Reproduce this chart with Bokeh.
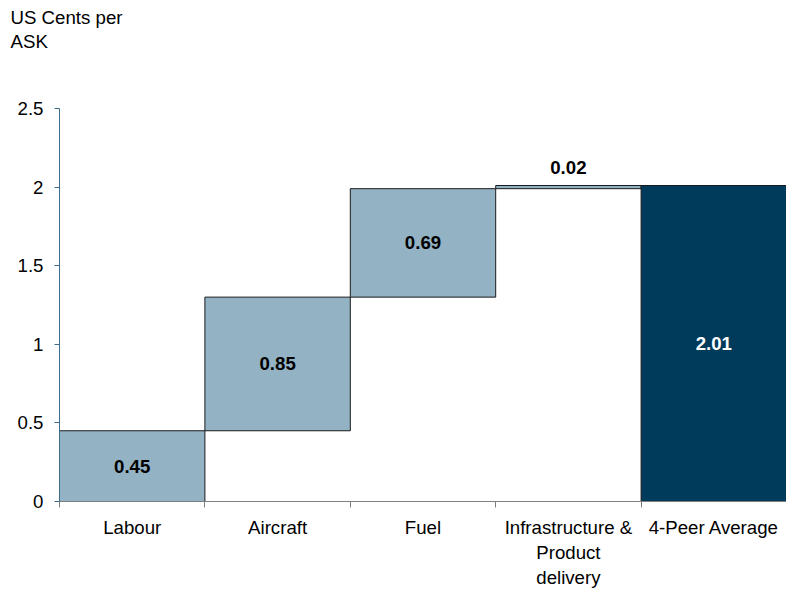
from bokeh.plotting import figure
from bokeh.models import ColumnDataSource, FixedTicker, Range1d
from bokeh.core.properties import value
from bokeh.embed import file_html
from bokeh.resources import INLINE

categories = ["Labour", "Aircraft", "Fuel", "Infrastructure &\nProduct\ndelivery", "4-Peer Average"]
values = [0.45, 0.85, 0.69, 0.02, 2.01]
labels = ["0.45", "0.85", "0.69", "0.02", "2.01"]
y_ticks = [0, 0.5, 1, 1.5, 2, 2.5]
y_tick_labels = ["0", "0.5", "1", "1.5", "2", "2.5"]
unit_lines = ["US Cents per", "ASK"]

# waterfall geometry from values
bottoms, tops = [], []
run = 0.0
for i, v in enumerate(values[:-1]):
    bottoms.append(run)
    run += v
    tops.append(run)
bottoms.append(0.0)
tops.append(values[-1])
# infrastructure step ends at the total
tops[3] = values[-1]
bottoms[3] = values[-1] - values[3]

xs = [i + 0.5 for i in range(len(categories))]
fills = ["#93b3c5"] * 4 + ["#003b5c"]

FONT = "Liberation Sans"
FS = "14pt"

p = figure(width=786, height=590, x_range=Range1d(0, 5), y_range=Range1d(0, 2.5),
           output_backend="svg", toolbar_location=None,
           min_border_left=59, min_border_right=0, min_border_top=0, min_border_bottom=0)
p.title.text = "\n".join(unit_lines + ["\u00a0", "\u00a0"])
p.title.text_font = FONT
p.title.text_font_size = FS
p.title.text_font_style = "normal"
p.title.text_color = "#000000"
p.title.text_line_height = 1.15
p.title.offset = -49
p.title.standoff = 13
p.title.vertical_align = "top"

p.outline_line_color = None
p.grid.grid_line_color = None

src = ColumnDataSource(dict(x=xs, bottom=bottoms, top=tops, fill=fills))
p.vbar(x="x", width=1.0, bottom="bottom", top="top", fill_color="fill",
       line_color="#1a1a1a", line_width=1, source=src)

# value labels
mid_idx = [0, 1, 2, 4]
lab_src = ColumnDataSource(dict(
    x=[xs[i] for i in mid_idx],
    y=[(bottoms[i] + tops[i]) / 2 for i in mid_idx],
    t=[labels[i] for i in mid_idx],
    c=["#000000", "#000000", "#000000", "#ffffff"]))
p.text(x="x", y="y", text="t", text_color="c", text_align="center", text_baseline="middle",
       text_font=value(FONT), text_font_size=FS, text_font_style="bold", source=lab_src)
top_src = ColumnDataSource(dict(x=[xs[3]], y=[tops[3]], t=[labels[3]]))
p.text(x="x", y="y", text="t", text_color="#000000", text_align="center",
       text_baseline="alphabetic", y_offset=-18,
       text_font=value(FONT), text_font_size=FS, text_font_style="bold", source=top_src)

# x axis: labels at centers, tick marks at boundaries
xa = p.xaxis[0]
xa.ticker = FixedTicker(ticks=xs, minor_ticks=list(range(len(categories) + 1)))
xa.major_label_overrides = {x: c for x, c in zip(xs, categories)}
xa.major_tick_line_color = None
xa.minor_tick_line_color = "#7f7f7f"
xa.minor_tick_out = 6
xa.minor_tick_in = 0
xa.axis_line_color = "#7f7f7f"
xa.major_label_text_font = FONT
xa.major_label_text_font_size = FS
xa.major_label_text_color = "#000000"
xa.major_label_standoff = 9

ya = p.yaxis[0]
ya.ticker = FixedTicker(ticks=y_ticks)
ya.major_label_overrides = {t: l for t, l in zip(y_ticks, y_tick_labels)}
ya.minor_tick_line_color = None
ya.axis_line_color = "#3f6c8a"
ya.major_tick_line_color = "#3f6c8a"
ya.major_tick_out = 5
ya.major_tick_in = 0
ya.major_label_text_font = FONT
ya.major_label_text_font_size = FS
ya.major_label_text_color = "#000000"
ya.major_label_standoff = 11

open("out.html", "w").write(file_html(p, INLINE))
